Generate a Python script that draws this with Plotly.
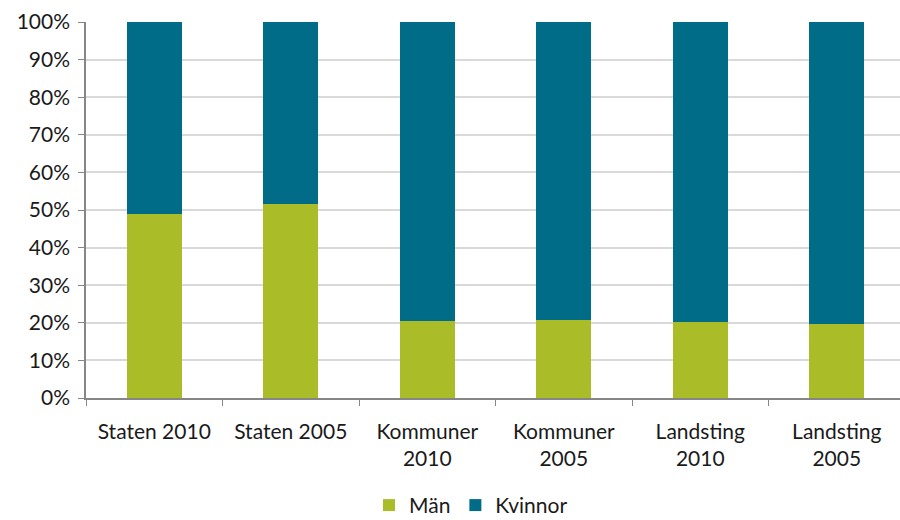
import plotly.graph_objects as go

categories = ["Staten 2010", "Staten 2005", "Kommuner<br>2010", "Kommuner<br>2005", "Landsting<br>2010", "Landsting<br>2005"]
man = [49.0, 51.6, 20.5, 20.7, 20.1, 19.7]
kvinnor = [100 - v for v in man]
y_ticks = [0, 10, 20, 30, 40, 50, 60, 70, 80, 90, 100]
y_labels = [f"{t}%" for t in y_ticks]

green = "#AABD28"
teal = "#006C87"
font_family = "Lato, Open Sans, sans-serif"

fig = go.Figure()
fig.add_trace(go.Bar(x=categories, y=man, name="Män", marker=dict(color=green, line=dict(width=0))))
fig.add_trace(go.Bar(x=categories, y=kvinnor, name="Kvinnor", marker=dict(color=teal, line=dict(width=0))))

fig.update_layout(
    barmode="stack",
    bargap=0.6,
    width=900, height=520,
    margin=dict(l=86, r=0, t=22, b=122, autoexpand=False),
    paper_bgcolor="white", plot_bgcolor="white",
    font=dict(family=font_family, size=21, color="#1a1a1a"),
    legend=dict(orientation="h", xref="paper", x=0.473, xanchor="center",
                yref="container", y=0.028, yanchor="middle",
                font=dict(size=21), itemwidth=30, traceorder="normal"),
    showlegend=True,
)
fig.update_xaxes(
    type="category", tickson="boundaries", ticks="outside", ticklen=6, tickcolor="#868686",
    showline=True, linecolor="#868686", linewidth=1.5, showgrid=False, automargin=False,
    range=[-0.5, 5.463], tickfont=dict(size=21), ticklabelstandoff=14,
)
fig.update_yaxes(
    range=[0, 100], tickvals=y_ticks, ticktext=y_labels, ticks="outside", ticklen=6,
    tickcolor="#868686", showline=True, linecolor="#868686", linewidth=1.5, automargin=False,
    showgrid=True, gridcolor="#D9D9D9", gridwidth=1.5, zeroline=False,
    tickfont=dict(size=21), ticklabelstandoff=4,
)
fig.write_html("out.html", config={"displayModeBar": False},
               post_script="document.body.style.margin='0';document.body.style.overflow='hidden';")
